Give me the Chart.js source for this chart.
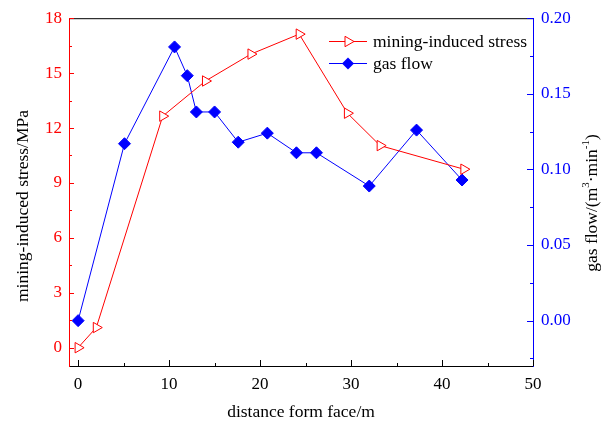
<!DOCTYPE html>
<html>
<head>
<meta charset="utf-8">
<script src="https://cdn.jsdelivr.net/npm/chart.js@4/dist/chart.umd.min.js"></script>
<style>
  html, body { margin: 0; padding: 0; background: #fff; }
</style>
</head>
<body>
<canvas id="chart" width="610" height="427"></canvas>
<script>
// --- DATA ---
const stressX = [0, 2, 9.3, 14, 19, 24.3, 29.6, 33.2, 42.4];
const stressY = [0, 1.1, 12.65, 14.57, 16.04, 17.13, 12.81, 11.04, 9.75];
const gasX = [0, 5.1, 10.6, 12, 13, 15, 17.6, 20.8, 24, 26.2, 32, 37.2, 42.2];
const gasY = [0, 0.117, 0.181, 0.162, 0.138, 0.138, 0.118, 0.124, 0.111, 0.111, 0.089, 0.126, 0.093];
const xTicks = [0, 10, 20, 30, 40, 50];
const stressTicks = [0, 3, 6, 9, 12, 15, 18];
const gasTicks = [0, 0.05, 0.1, 0.15, 0.2];

const RED = '#ff0000', BLUE = '#0000ff', FONT = 'Liberation Serif';
const pts = (xs, ys) => xs.map((x, i) => ({ x, y: ys[i] }));

// minor ticks half way between majors (plus one step past each end when it fits)
const minors = (major, min, max) => {
    const step = major[1] - major[0], out = [];
    for (let v = major[0] - step / 2; v <= major[major.length - 1] + step / 2; v += step)
        if (v >= min && v <= max) out.push(v);
    return out;
};

// --- DRAW HELPERS ---
const triangle = (ctx, x, y, r) => {
    ctx.beginPath();
    ctx.moveTo(x + r, y);
    ctx.lineTo(x - r / 2, y - r * 0.866);
    ctx.lineTo(x - r / 2, y + r * 0.866);
    ctx.closePath();
    ctx.fillStyle = '#fff'; ctx.fill();
    ctx.strokeStyle = RED; ctx.lineWidth = 1; ctx.stroke();
};
const diamond = (ctx, x, y, r) => {
    ctx.beginPath();
    ctx.moveTo(x, y - r); ctx.lineTo(x + r, y); ctx.lineTo(x, y + r); ctx.lineTo(x - r, y);
    ctx.closePath();
    ctx.fillStyle = BLUE; ctx.fill();
};

const frame = {
    id: 'frame',
    afterDraw(chart) {
        const { ctx, chartArea: a, scales } = chart;
        ctx.save();
        // top border
        ctx.strokeStyle = '#000'; ctx.lineWidth = 1;
        ctx.beginPath(); ctx.moveTo(a.left, a.top + 0.5); ctx.lineTo(a.right, a.top + 0.5); ctx.stroke();

        // inward ticks
        const tick = (scale, vals, len, color, side) => {
            ctx.strokeStyle = color; ctx.beginPath();
            vals.forEach(v => {
                const p = Math.round(scale.getPixelForValue(v)) + 0.5;
                if (side === 'bottom') { ctx.moveTo(p, a.bottom); ctx.lineTo(p, a.bottom - len); }
                if (side === 'left') { ctx.moveTo(a.left, p); ctx.lineTo(a.left + len, p); }
                if (side === 'right') { ctx.moveTo(a.right, p); ctx.lineTo(a.right - len, p); }
            });
            ctx.stroke();
        };
        tick(scales.x, xTicks, 6, '#000', 'bottom');
        tick(scales.x, minors(xTicks, -1, 50), 3, '#000', 'bottom');
        tick(scales.y, stressTicks, 5, RED, 'left');
        tick(scales.y, minors(stressTicks, -1, 18), 3, RED, 'left');
        tick(scales.y1, gasTicks, 6, BLUE, 'right');
        tick(scales.y1, minors(gasTicks, -0.03, 0.2), 3, BLUE, 'right');

        // vertical axis titles
        ctx.fillStyle = '#000'; ctx.textBaseline = 'middle';
        ctx.save();
        ctx.translate(23, 206); ctx.rotate(-Math.PI / 2);
        ctx.font = `17.5px "${FONT}"`; ctx.textAlign = 'center';
        ctx.fillText('mining-induced stress/MPa', 0, 0);
        ctx.restore();

        ctx.save();
        ctx.translate(592, 203); ctx.rotate(-Math.PI / 2);
        const parts = [['gas flow/(m', 0], ['3', 1], ['\u00b7min', 0], ['-1', 1], [')', 0]];
        const fontOf = s => s ? `11px "${FONT}"` : `17.5px "${FONT}"`;
        let w = 0;
        parts.forEach(([t, s]) => { ctx.font = fontOf(s); w += ctx.measureText(t).width; });
        let x = -w / 2; ctx.textAlign = 'left';
        parts.forEach(([t, s]) => {
            ctx.font = fontOf(s);
            ctx.fillText(t, x, s ? -6 : 0);
            x += ctx.measureText(t).width;
        });
        ctx.restore();

        // legend
        ctx.font = `17.5px "${FONT}"`; ctx.textAlign = 'left';
        const rows = [
            { y: 41, color: RED, text: 'mining-induced stress', mark: triangle },
            { y: 63, color: BLUE, text: 'gas flow', mark: diamond }
        ];
        rows.forEach(r => {
            ctx.strokeStyle = r.color; ctx.lineWidth = 1;
            ctx.beginPath(); ctx.moveTo(329, r.y + 0.5); ctx.lineTo(367, r.y + 0.5); ctx.stroke();
            r.mark(ctx, 348, r.y + 0.5, 6);
            ctx.fillStyle = '#000'; ctx.fillText(r.text, 373, r.y + 1);
        });
        ctx.restore();
    }
};

new Chart(document.getElementById('chart'), {
    type: 'line',
    data: {
        datasets: [
            { label: 'mining-induced stress', data: pts(stressX, stressY), yAxisID: 'y',
              borderColor: RED, borderWidth: 1, pointStyle: 'triangle', rotation: 90, pointRadius: 6,
              pointBackgroundColor: '#fff', pointBorderColor: RED, pointBorderWidth: 1 },
            { label: 'gas flow', data: pts(gasX, gasY), yAxisID: 'y1',
              borderColor: BLUE, borderWidth: 1, pointStyle: 'rectRot', pointRadius: 6,
              pointBackgroundColor: BLUE, pointBorderColor: BLUE, pointBorderWidth: 1 }
        ]
    },
    options: {
        responsive: false, animation: false, events: [],
        layout: { padding: { top: 17, left: 0, right: 0, bottom: 0 } },
        plugins: { legend: { display: false }, tooltip: { enabled: false } },
        scales: {
            x: {
                type: 'linear', position: 'bottom', min: -1, max: 50,
                afterBuildTicks: s => { s.ticks = xTicks.map(v => ({ value: v })); },
                afterFit: s => { s.height = 61; },
                grid: { display: false, drawTicks: false },
                border: { display: true, color: '#000', width: 1 },
                ticks: { color: '#000', padding: 8, font: { family: FONT, size: 17 } },
                title: { display: true, text: 'distance form face/m', color: '#000', padding: { top: 6 },
                         font: { family: FONT, size: 17.5 } }
            },
            y: {
                type: 'linear', position: 'left', min: -1, max: 18,
                afterBuildTicks: s => { s.ticks = stressTicks.map(v => ({ value: v })); },
                afterFit: s => { s.width = 69; },
                grid: { display: false, drawTicks: false },
                border: { display: true, color: RED, width: 1 },
                ticks: { color: RED, padding: 7, font: { family: FONT, size: 17 } }
            },
            y1: {
                type: 'linear', position: 'right', min: -0.03, max: 0.2,
                afterBuildTicks: s => { s.ticks = gasTicks.map(v => ({ value: v })); },
                afterFit: s => { s.width = 77; },
                grid: { display: false, drawTicks: false },
                border: { display: true, color: BLUE, width: 1 },
                ticks: { color: BLUE, padding: 8, font: { family: FONT, size: 17 },
                         callback: v => v.toFixed(2) }
            }
        }
    },
    plugins: [frame]
});
</script>
</body>
</html>
